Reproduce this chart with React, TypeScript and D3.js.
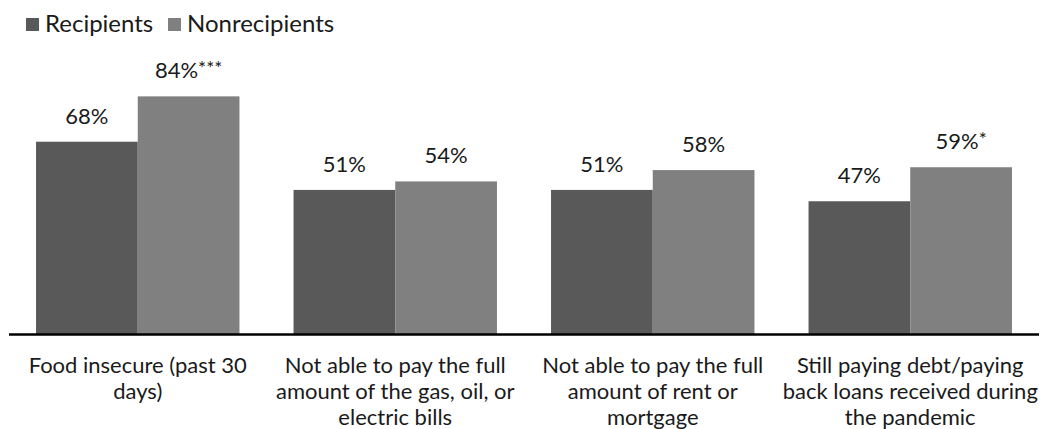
import React from "react";
import * as d3 from "d3";

const categories = [
  "Food insecure (past 30 days)",
  "Not able to pay the full amount of the gas, oil, or electric bills",
  "Not able to pay the full amount of rent or mortgage",
  "Still paying debt/paying back loans received during the pandemic",
];
const categoryLines = [
  ["Food insecure (past 30", "days)"],
  ["Not able to pay the full", "amount of the gas, oil, or", "electric bills"],
  ["Not able to pay the full", "amount of rent or", "mortgage"],
  ["Still paying debt/paying", "back loans received during", "the pandemic"],
];
const seriesNames = ["Recipients", "Nonrecipients"];
const recipients = [68, 51, 51, 47];
const nonrecipients = [84, 54, 58, 59];
const recipientsSig = ["", "", "", ""];
const nonrecipientsSig = ["***", "", "", "*"];

const W = 1049;
const H = 429;
const colors = ["#595959", "#808080"];
const FONT = "Lato, 'Noto Sans', sans-serif";
const TEXT = "#1a1a1a";

export default function App() {
  const left = 9;
  const right = 1039;
  const baseY = 334.5;
  const x0 = d3.scaleBand<string>().domain(categories).range([left, right]).paddingInner(0.21).paddingOuter(0.105);
  const x1 = d3.scaleBand<string>().domain(seriesNames).range([0, x0.bandwidth()]).padding(0);
  const y = d3.scaleLinear().domain([0, 100]).range([baseY, 51]);
  const series = [
    { name: seriesNames[0], values: recipients, sig: recipientsSig },
    { name: seriesNames[1], values: nonrecipients, sig: nonrecipientsSig },
  ];
  return (
    <div style={{ position: "absolute", left: 0, top: 0, width: W, height: H, overflow: "hidden" }}>
      <svg width={W} height={H} style={{ display: "block" }} fontFamily={FONT}>
        <rect width={W} height={H} fill="#fff" />
        <g>
          <rect x={26} y={18} width={13} height={13} fill={colors[0]} />
          <text x={45} y={32} fontSize={24} fill={TEXT}>{seriesNames[0]}</text>
          <rect x={168} y={18} width={13} height={13} fill={colors[1]} />
          <text x={187} y={32} fontSize={24} fill={TEXT}>{seriesNames[1]}</text>
        </g>
        {categories.map((c, i) => (
          <g key={c} transform={`translate(${x0(c)},0)`}>
            {series.map((s, si) => {
              const bx = x1(s.name)!;
              const bw = x1.bandwidth();
              const v = s.values[i];
              return (
                <g key={s.name}>
                  <rect x={bx} y={y(v)} width={bw} height={baseY - y(v)} fill={colors[si]} />
                  <text x={bx + bw / 2} y={y(v) - 18} textAnchor="middle" fontSize={22} fill={TEXT}>
                    {`${v}%`}
                    {s.sig[i] && <tspan fontSize={19} dy={-3}>{s.sig[i]}</tspan>}
                  </text>
                </g>
              );
            })}
          </g>
        ))}
        <line x1={left} x2={right} y1={baseY} y2={baseY} stroke="#000" strokeWidth={2.5} />
        {categories.map((c, i) => (
          <text key={c} x={x0(c)! + x0.bandwidth() / 2} textAnchor="middle" fontSize={22} fill={TEXT}>
            {categoryLines[i].map((l, li) => (
              <tspan key={li} x={x0(c)! + x0.bandwidth() / 2} y={373 + li * 26}>{l}</tspan>
            ))}
          </text>
        ))}
      </svg>
    </div>
  );
}
